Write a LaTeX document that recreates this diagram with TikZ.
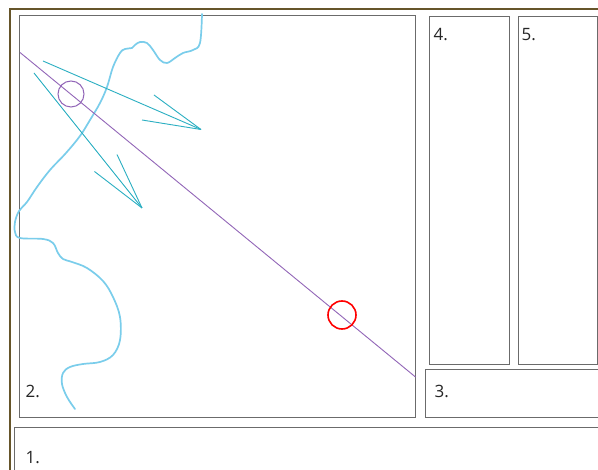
\documentclass[tikz,border=0pt]{standalone}
\usepackage{fontspec}
\setmainfont{Open Sans}
\begin{document}
\begin{tikzpicture}[x=1pt,y=-1pt,
  box/.style={draw=black!58,line width=1pt,rectangle,inner sep=0pt},
  lbl/.style={anchor=base west,inner sep=0pt,text=black!85,font=\fontsize{17}{19}\selectfont}]
\definecolor{frame}{HTML}{66552A}
\definecolor{purp}{HTML}{9266B8}
\definecolor{arrc}{HTML}{2BAFC2}
\definecolor{wavec}{HTML}{7ACDEB}
\useasboundingbox (0,0) rectangle (598,470);
\clip (0,0) rectangle (598,470);
\fill[white] (0,0) rectangle (598,470);
% outer frame
\draw[frame,line width=2.5pt] (10,480) -- (10,9) -- (610,9);
% boxes
\node[box,minimum width=396pt,minimum height=402pt] (b2) at (217,217) {};
\node[box,minimum width=80pt,minimum height=348pt] (b4) at (469,191) {};
\node[box,minimum width=79pt,minimum height=348pt] (b5) at (557.5,191) {};
\node[box,minimum width=185pt,minimum height=48pt] (b3) at (517.5,394) {};
\node[box,minimum width=596pt,minimum height=62pt] (b1) at (312,459) {};
% labels
\node[lbl] (l2) at (25.5,397.5) {2.};
\node[lbl] (l1) at (25.5,463.5) {1.};
\node[lbl] (l3) at (434.5,397.5) {3.};
\node[lbl] (l4) at (433.5,40.5) {4.};
\node[lbl] (l5) at (521.5,40.5) {5.};
% wavy curve
\draw[wavec,line width=1.7pt,line cap=round] plot[smooth,tension=0.6] coordinates {
(202,14) (200,43) (193,50) (183,53) (175,58) (167,63) (160,60) (153,50) (147,43) (140,42) (135,45) (132,48) (125,49) (120,53) (113,67) (107,87) (100,103) (90,120) (80,136) (66,153) (50,170) (37,187) (27,202) (19,211) (15,222) (15,232) (20,238) (43,239) (53,243) (58,253) (63,259) (72,262) (87,268) (103,281) (113,297) (120,317) (120,340) (113,355) (100,362) (83,364) (70,367) (63,373) (62,384) (67,397) (75,409)};
% purple line and circle
\coordinate (p1) at (20,52.5);
\coordinate (p2) at (415.5,377);
\draw[purp,line width=0.9pt] (p1) -- (p2);
\node[draw=purp,line width=1pt,circle,minimum size=26pt,inner sep=0pt] (pc) at (71,94) {};
% red circle
\node[draw=red,line width=1.6pt,circle,minimum size=28pt,inner sep=0pt] (rc) at (342,315) {};
% teal arrows
\coordinate (a1s) at (43,61);
\coordinate (a1t) at (201,129.5);
\coordinate (a1h1) at (154,95);
\coordinate (a1h2) at (142,120);
\draw[arrc,line width=0.9pt] (a1s) -- (a1t);
\draw[arrc,line width=0.9pt] (a1h1) -- (a1t);
\draw[arrc,line width=0.9pt] (a1h2) -- (a1t);
\coordinate (a2s) at (34,73);
\coordinate (a2t) at (142,208);
\coordinate (a2h1) at (117,154.5);
\coordinate (a2h2) at (94.5,171.5);
\draw[arrc,line width=0.9pt] (a2s) -- (a2t);
\draw[arrc,line width=0.9pt] (a2h1) -- (a2t);
\draw[arrc,line width=0.9pt] (a2h2) -- (a2t);
\end{tikzpicture}
\end{document}
